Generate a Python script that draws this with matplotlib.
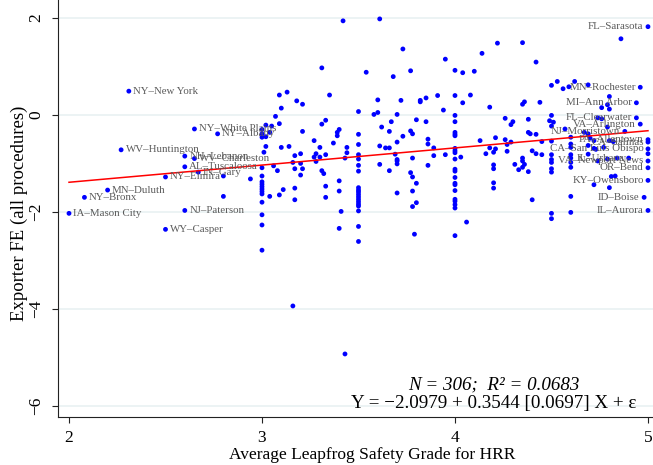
import matplotlib
matplotlib.use("Agg")
import matplotlib.pyplot as plt
import numpy as np

# unlabeled HRRs: (grade, exporter FE)
pts_x = [
    3.31, 3.09, 3.13, 3.35, 3.10, 3.18, 3.21, 3.07, 3.09, 3.02, 3.05, 3.00, 3.00, 3.00, 3.04, 3.02,
    3.21, 3.31, 3.33, 3.02, 3.10, 3.14, 3.27, 3.30, 3.01, 3.28, 3.27, 3.30, 3.33, 3.17, 3.20, 3.28,
    3.16, 3.20, 3.06, 3.17, 3.21, 3.00, 3.08, 3.20, 3.31, 3.32, 2.94, 3.00, 3.00, 3.00, 3.00, 3.00,
    3.00, 3.00, 3.04, 3.11, 3.09, 3.17, 3.17, 3.33, 3.33, 3.00, 3.00, 3.00, 3.00, 3.16, 3.43,
    3.42, 3.61, 3.73, 3.54, 3.68, 3.77, 3.60, 3.72, 3.50, 3.60, 3.58, 3.70, 3.40, 3.39, 3.39, 3.62,
    3.67, 3.66, 3.77, 3.78, 3.73, 3.50, 3.50, 3.37, 3.44, 3.61, 3.64, 3.66, 3.70, 3.44, 3.50, 3.50,
    3.50, 3.50, 3.43, 3.69, 3.70, 3.70, 3.70, 3.78, 3.61, 3.66, 3.77, 3.78, 3.40, 3.40, 3.50, 3.50,
    3.50, 3.50, 3.50, 3.50, 3.50, 3.50, 3.50, 3.50, 3.41, 3.70, 3.78, 3.78, 3.40, 3.50, 3.50, 3.79,
    4.22, 4.14, 3.95, 4.00, 4.04, 4.10, 3.82, 3.82, 3.85, 3.91, 4.00, 4.08, 4.04, 3.94, 4.18, 4.00,
    4.00, 3.80, 3.85, 4.00, 4.00, 4.00, 3.86, 3.86, 3.89, 4.13, 4.21, 4.18, 4.21, 4.20, 4.16, 4.00,
    4.00, 4.00, 4.03, 3.95, 3.89, 4.00, 3.86, 4.00, 4.00, 4.20, 4.20, 3.80, 4.00, 4.00, 4.00, 4.00,
    3.80, 4.00, 4.00, 4.00, 4.00, 4.20, 4.20, 4.06, 4.00,
    4.35, 4.42, 4.50, 4.53, 4.56, 4.59, 4.62, 4.35, 4.36, 4.44, 4.26, 4.29, 4.30, 4.38, 4.38, 4.39,
    4.42, 4.49, 4.50, 4.51, 4.50, 4.26, 4.27, 4.29, 4.45, 4.50, 4.57, 4.60, 4.60, 4.27, 4.40, 4.42,
    4.45, 4.50, 4.50, 4.50, 4.60, 4.60, 4.31, 4.35, 4.35, 4.36, 4.35, 4.33, 4.38, 4.50, 4.50, 4.60,
    4.60, 4.40, 4.60, 4.50, 4.50, 4.60, 4.60,
    4.86, 4.69, 4.80, 4.79, 4.76, 4.80, 4.74, 4.76, 4.79, 4.67, 4.69, 4.70, 4.72, 4.80, 4.82, 4.69,
    4.72, 4.77, 4.73, 4.69, 4.79, 4.84, 4.74, 4.81, 4.83, 4.72, 4.80, 5.00,
    2.80, 2.80,
]
pts_y = [
    0.97, 0.41, 0.47, 0.41, 0.14, 0.29, 0.22, -0.03, -0.18, -0.21, -0.23, -0.30, -0.39, -0.46, -0.36, -0.45,
    -0.34, -0.19, -0.11, -0.65, -0.67, -0.65, -0.53, -0.67, -0.77, -0.80, -0.87, -0.87, -0.82, -0.84, -0.80, -0.96,
    -0.98, -1.00, -1.05, -1.11, -1.11, -1.09, -1.15, -1.24, -1.15, -1.21, -1.32, -1.26, -1.38, -1.43, -1.48, -1.53,
    -1.58, -1.63, -1.68, -1.54, -1.65, -1.51, -1.75, -1.47, -1.70, -1.80, -2.06, -2.27, -2.79, -3.94, -4.93,
    1.94, 1.98, 1.36, 0.88, 0.79, 0.91, 0.31, 0.30, 0.07, 0.05, 0.01, 0.01, -0.30, -0.36, -0.43, -0.25,
    -0.14, -0.34, -0.33, -0.39, -0.44, -0.40, -0.61, -0.58, -0.67, -0.64, -0.68, -0.68, -0.56, -0.78, -0.82, -0.91,
    -1.04, -1.16, -0.89, -0.81, -0.92, -0.95, -1.01, -0.89, -1.02, -1.15, -1.19, -1.28, -1.36, -1.57, -1.50, -1.55,
    -1.59, -1.64, -1.69, -1.74, -1.79, -1.84, -1.88, -1.98, -1.99, -1.61, -1.57, -1.89, -2.34, -2.30, -2.61, -2.46,
    1.48, 1.27, 1.15, 0.92, 0.87, 0.90, 0.30, 0.27, 0.35, 0.40, 0.40, 0.41, 0.25, 0.10, 0.16, -0.01,
    -0.14, -0.10, -0.14, -0.36, -0.40, -0.43, -0.50, -0.60, -0.68, -0.53, -0.47, -0.68, -0.70, -0.77, -0.80, -0.69,
    -0.74, -0.78, -0.87, -0.82, -0.84, -0.91, -1.04, -1.12, -1.16, -1.03, -1.11, -1.41, -1.29, -1.41, -1.44, -1.56,
    -1.81, -1.74, -1.78, -1.85, -1.92, -1.40, -1.51, -2.21, -2.49,
    1.49, 1.09, 0.61, 0.69, 0.54, 0.58, 0.69, 0.22, 0.27, 0.26, -0.07, -0.20, -0.14, -0.09, -0.36, -0.39,
    -0.40, -0.12, -0.01, -0.15, -0.23, -0.51, -0.61, -0.56, -0.55, -0.54, -0.29, -0.60, -0.67, -0.75, -0.74, -0.80,
    -0.82, -0.82, -0.92, -0.98, -0.82, -0.89, -1.02, -0.89, -0.95, -1.02, -1.08, -1.13, -1.17, -1.11, -1.18, -0.98,
    -1.08, -1.75, -1.68, -2.03, -2.14, -2.01, -0.46,
    1.57, 0.62, 0.38, 0.21, 0.15, 0.12, -0.06, -0.08, -0.25, -0.36, -0.39, -0.48, -0.53, -0.53, -0.55, -0.63,
    -0.69, -0.67, -0.71, -0.81, -0.91, -0.89, -0.95, -1.27, -1.26, -1.44, -1.50, -0.80,
    -1.68, -1.26,
]

# labeled HRRs, label to the right of the marker
left_names = ["NY–New York", "NY–White Plains", "NY–Albany", "WV–Huntington", "NH–Lebanon",
              "WV–Charleston", "AL–Tuscaloosa", "IN–Gary", "NY–Elmira", "MN–Duluth",
              "NY–Bronx", "IA–Mason City", "NJ–Paterson", "WY–Casper"]
left_x = [2.31, 2.65, 2.77, 2.27, 2.60, 2.65, 2.60, 2.67, 2.50, 2.20, 2.08, 2.00, 2.60, 2.50]
left_y = [0.49, -0.29, -0.39, -0.72, -0.85, -0.90, -1.07, -1.18, -1.28, -1.55, -1.70, -2.03, -1.97, -2.36]

# labeled HRRs, label to the left of the marker
right_names = ["FL–Sarasota", "MN–Rochester", "MI–Ann Arbor", "FL–Clearwater", "VA–Arlington",
               "NJ–Morristown", "PA–Allentown", "CA–Salinas", "CA–San Luis Obispo", "IL–Urbana",
               "VA–Newport News", "OR–Bend", "KY–Owensboro", "ID–Boise", "IL–Aurora"]
right_x = [5.00, 4.96, 4.94, 4.94, 4.96, 4.88, 5.00, 5.00, 5.00, 4.90, 5.00, 5.00, 5.00, 4.98, 5.00]
right_y = [1.82, 0.57, 0.25, -0.06, -0.19, -0.34, -0.51, -0.56, -0.70, -0.89, -0.95, -1.09, -1.35, -1.70, -1.97]

b0, b1 = -2.0979, 0.3544
fit_x = [2, 5]

serif = ["Liberation Serif", "DejaVu Serif"]
plt.rcParams['font.family'] = serif

fig = plt.figure(figsize=(6.53, 4.65), dpi=100)
ax = fig.add_axes([58 / 653, 48 / 465, 595 / 653, 417 / 465])

ax.set_xlim(1.943, 5.026)
ax.set_ylim(-6.23, 2.37)
ax.set_yticks([-6, -4, -2, 0, 2])
ax.set_xticks([2, 3, 4, 5])
ax.grid(axis='y', color='#eaf2f3', linewidth=1.3)
ax.set_axisbelow(True)
for s in ['top', 'right']:
    ax.spines[s].set_visible(False)
for s in ['left', 'bottom']:
    ax.spines[s].set_linewidth(0.8)
    ax.spines[s].set_color('#222222')
ax.tick_params(axis='both', length=4, width=0.8, color='#222222', labelsize=12.5)
ax.tick_params(axis='x', pad=5)
ax.tick_params(axis='y', pad=6)
for lab in ax.get_yticklabels():
    lab.set_rotation(90)
    lab.set_va('center')

allx = pts_x + left_x + right_x
ally = pts_y + left_y + right_y
ax.scatter(allx, ally, s=12, color='#0000ff', edgecolors='none', zorder=3)

fx = np.array(fit_x)
ax.plot(fx, b0 + b1 * fx, color='red', linewidth=1.1, zorder=4)

for n, x, y in zip(left_names, left_x, left_y):
    ax.annotate(n, (x, y), xytext=(3.2, 0), textcoords='offset points',
                ha='left', va='center', fontsize=7.8, color='#5a5a5a', zorder=5)
for n, x, y in zip(right_names, right_x, right_y):
    ax.annotate(n, (x, y), xytext=(-3.2, 0), textcoords='offset points',
                ha='right', va='center', fontsize=7.8, color='#5a5a5a', zorder=5)

ax.set_xlabel("Average Leapfrog Safety Grade for HRR", fontsize=12.5)
ax.xaxis.set_label_coords(0.528, -0.072)
ax.set_ylabel("Exporter FE (all procedures)", fontsize=13.5)
ax.yaxis.set_label_coords(-0.05, 0.488)

fig.text(0.7565, 0.172, "N = 306;  R² = 0.0683", ha='center', va='center',
         fontsize=13.7, style='italic')
fig.text(0.7565, 0.133, "Y = −2.0979 + 0.3544 [0.0697] X + ε", ha='center', va='center',
         fontsize=13.7)

fig.savefig("out.png", dpi=100)
